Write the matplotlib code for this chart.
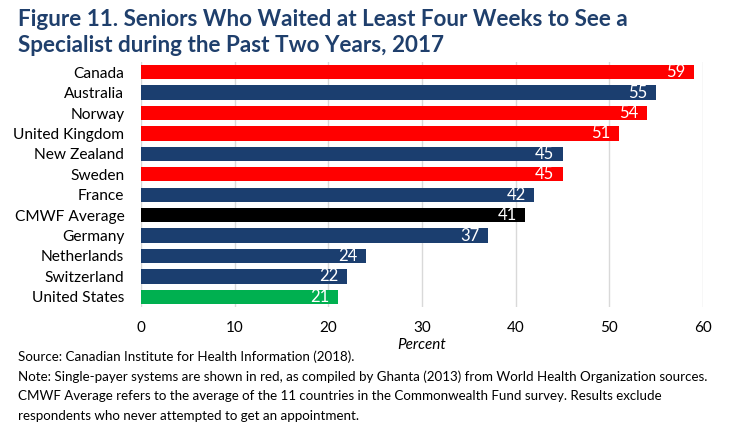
import matplotlib.pyplot as plt

# data
countries = ["Canada", "Australia", "Norway", "United Kingdom", "New Zealand", "Sweden",
             "France", "CMWF Average", "Germany", "Netherlands", "Switzerland", "United States"]
values = [59, 55, 54, 51, 45, 45, 42, 41, 37, 24, 22, 21]
groups = ["single", "other", "single", "single", "other", "single",
          "other", "avg", "other", "other", "other", "us"]
x_ticks = [0, 10, 20, 30, 40, 50, 60]

palette = {"single": "#FF0000", "other": "#1B3E6F", "avg": "#000000", "us": "#00B050"}
title_color = "#1F3F6C"

plt.rcParams['font.family'] = ['Lato', 'DejaVu Sans']

fig = plt.figure(figsize=(7.45, 4.4), dpi=100)
ax = fig.add_axes([141 / 745, 1 - 307 / 440, (703 - 141) / 745, (307 - 62) / 440])

pos = list(range(len(countries)))
ax.barh(pos, values, height=0.7, color=[palette[g] for g in groups], zorder=3)
for p, v in zip(pos, values):
    ax.text(v - 0.9, p, str(v), color="white", ha="right", va="center", fontsize=12, zorder=4)

ax.set_yticks(pos)
ax.set_yticklabels(countries, fontsize=11.2)
ax.set_ylim(len(countries) - 0.5, -0.5)
ax.set_xlim(0, 60)
ax.set_xticks(x_ticks)
ax.set_xticklabels([str(t) for t in x_ticks], fontsize=11)
ax.tick_params(axis="y", length=0, pad=12)
ax.tick_params(axis="x", length=0, pad=10)
ax.grid(axis="x", color="#D9D9D9", linewidth=1, zorder=0)
for s in ax.spines.values():
    s.set_visible(False)
ax.set_xlabel("Percent", fontsize=11, style="italic", labelpad=2)

fig.text(18 / 745, 1 - 19 / 440, "Figure 11. Seniors Who Waited at Least Four Weeks to See a",
         fontsize=16.2, fontweight="bold", color=title_color, va="center")
fig.text(18 / 745, 1 - 46 / 440, "Specialist during the Past Two Years, 2017",
         fontsize=16.2, fontweight="bold", color=title_color, va="center")

notes = ["Source: Canadian Institute for Health Information (2018).",
         "Note: Single-payer systems are shown in red, as compiled by Ghanta (2013) from World Health Organization sources.",
         "CMWF Average refers to the average of the 11 countries in the Commonwealth Fund survey. Results exclude",
         "respondents who never attempted to get an appointment."]
for i, line in enumerate(notes):
    fig.text(18 / 745, 1 - (357 + i * 19.5) / 440, line, fontsize=9.6, va="center")

fig.savefig("out.png", dpi=100)
